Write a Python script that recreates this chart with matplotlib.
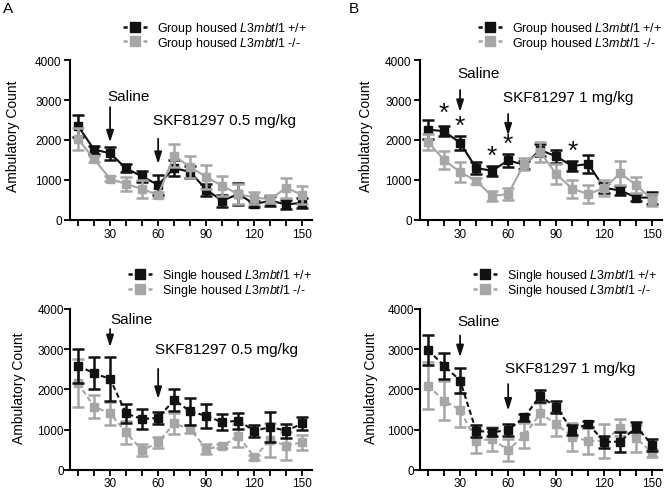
import matplotlib
matplotlib.use('Agg')
import matplotlib.pyplot as plt
from matplotlib.lines import Line2D

plt.rcParams['font.family'] = ['Liberation Sans', 'DejaVu Sans']
plt.rcParams['mathtext.fontset'] = 'custom'
plt.rcParams['mathtext.rm'] = 'Liberation Sans'
plt.rcParams['mathtext.it'] = 'Liberation Sans:italic'

# time bins (min)
minutes = [10, 20, 30, 40, 50, 60, 70, 80, 90, 100, 110, 120, 130, 140, 150]
xticks = [10, 20, 30, 40, 50, 60, 70, 80, 90, 100, 110, 120, 130, 140, 150]
xticklabels = ['', '', '30', '', '', '60', '', '', '90', '', '', '120', '', '', '150']
yticks = [0, 1000, 2000, 3000, 4000]

# A: group housed, SKF81297 0.5 mg/kg
a_wt = [2350, 1760, 1670, 1290, 1090, 875, 1300, 1200, 760, 480, 650, 400, 480, 390, 430]
a_wt_err = [270, 100, 160, 100, 140, 250, 190, 150, 150, 150, 270, 80, 120, 120, 130]
a_ko = [2030, 1520, 1030, 900, 775, 625, 1610, 1320, 1080, 850, 650, 560, 520, 810, 620]
a_ko_err = [270, 80, 60, 180, 230, 80, 290, 280, 300, 240, 250, 150, 100, 250, 230]

# B: group housed, SKF81297 1 mg/kg
b_wt = [2260, 2220, 1930, 1300, 1230, 1490, 1380, 1750, 1590, 1350, 1400, 800, 740, 560, 560]
b_wt_err = [230, 130, 170, 150, 130, 170, 100, 150, 170, 120, 220, 120, 120, 80, 150]
b_ko = [1950, 1500, 1200, 980, 600, 650, 1400, 1700, 1150, 780, 650, 800, 1170, 870, 500]
b_ko_err = [200, 230, 250, 80, 120, 150, 150, 250, 250, 230, 230, 200, 300, 200, 150]
b_star_x = [20, 30, 50, 60, 100]
b_star_y = [2690, 2360, 1610, 1900, 1730]

# C: single housed, SKF81297 0.5 mg/kg
c_wt = [2590, 2400, 2260, 1400, 1260, 1290, 1740, 1450, 1340, 1180, 1220, 970, 1060, 970, 1150]
c_wt_err = [420, 400, 550, 230, 250, 150, 270, 330, 300, 200, 200, 150, 380, 170, 170]
c_ko = [2150, 1570, 1400, 930, 480, 680, 1150, 1010, 520, 580, 850, 310, 740, 600, 680]
c_ko_err = [600, 280, 280, 290, 150, 130, 250, 100, 120, 50, 280, 60, 420, 350, 180]

# D: single housed, SKF81297 1 mg/kg
d_wt = [2980, 2590, 2220, 970, 930, 990, 1300, 1840, 1550, 990, 1140, 690, 700, 1060, 620]
d_wt_err = [380, 320, 300, 150, 100, 150, 80, 150, 150, 120, 80, 150, 250, 120, 150]
d_ko = [2090, 1720, 1490, 720, 760, 490, 850, 1400, 1140, 820, 720, 720, 1050, 780, 420]
d_ko_err = [580, 480, 430, 300, 300, 280, 300, 270, 300, 350, 320, 420, 200, 330, 100]

BLACK = '#111111'
GRAY = '#a6a6a6'
W, H = 666, 489

fig = plt.figure(figsize=(W / 100, H / 100), dpi=100)


def make_axes(left, top, bottom, width=242):
    return fig.add_axes([left / W, 1 - bottom / H, width / W, (bottom - top) / H])


def draw_series(ax, y, err, color, ls, z):
    ax.errorbar(minutes, y, yerr=err, color=color, ls=ls, lw=1.5, marker='s', ms=6,
                mec=color, mfc=color, elinewidth=1.8, capsize=4.5, capthick=1.8,
                zorder=z, clip_on=False)


def style_axes(ax, labx, laby, tickpad):
    ax.set_xlim(5, 156)
    ax.set_ylim(0, 4000)
    for s in ['top', 'right']:
        ax.spines[s].set_visible(False)
    for s in ['left', 'bottom']:
        ax.spines[s].set_linewidth(1.5)
    ax.set_xticks(xticks)
    ax.set_xticklabels(xticklabels)
    ax.set_yticks(yticks)
    ax.tick_params(axis='x', length=4.5, width=1.3, labelsize=8.5, pad=1)
    ax.tick_params(axis='y', length=4, width=1.3, labelsize=8.5, pad=tickpad)
    ax.set_ylabel('Ambulatory Count', fontsize=10)
    ax.yaxis.set_label_coords(labx, laby)


def annotate(ax, label, tx, ty, ax_x, y0, y1):
    ax.text(tx, ty, label, fontsize=11, va='center', ha='left')
    ax.annotate('', xy=(ax_x, y1), xytext=(ax_x, y0),
                arrowprops=dict(arrowstyle='-|>,head_length=0.7,head_width=0.22',
                                lw=1.3, color=BLACK, shrinkA=0, shrinkB=0))


def add_legend(ax, housing, x_px, top_px):
    dash = (0, (1.7, 1.4, 3.5, 1.4, 1.7, 10))
    handles = [Line2D([], [], color=BLACK, ls=dash, lw=1.8, marker='s', ms=7),
               Line2D([], [], color=GRAY, ls=dash, lw=1.8, marker='s', ms=7)]
    labels = [housing + ' housed $\\mathit{L3mbtl1}$ +/+',
              housing + ' housed $\\mathit{L3mbtl1}$ -/-']
    ax.legend(handles, labels, loc='upper left', bbox_to_anchor=(x_px / W, 1 - top_px / H),
              bbox_transform=fig.transFigure, frameon=False, fontsize=9, borderpad=0,
              borderaxespad=0, handlelength=1.9, handletextpad=0.8, labelspacing=-0.12,
              numpoints=1)


# panel A
axA = make_axes(70, 61, 221)
draw_series(axA, a_wt, a_wt_err, BLACK, '-', 3)
draw_series(axA, a_ko, a_ko_err, GRAY, '-', 4)
style_axes(axA, -0.207, 0.53, 2)
annotate(axA, 'Saline', 28, 3100, 30, 2820, 1940)
annotate(axA, 'SKF81297 0.5 mg/kg', 57, 2500, 60, 2030, 1400)
add_legend(axA, 'Group', 123, 21)

# panel B
axB = make_axes(420, 61, 221)
draw_series(axB, b_wt, b_wt_err, BLACK, '-', 3)
draw_series(axB, b_ko, b_ko_err, GRAY, '-', 4)
style_axes(axB, -0.193, 0.53, 2)
annotate(axB, 'Saline', 28, 3680, 30, 3250, 2700)
annotate(axB, 'SKF81297 1 mg/kg', 57, 3070, 60, 2650, 2110)
for sx, sy in zip(b_star_x, b_star_y):
    axB.text(sx, sy, '*', fontsize=19, ha='center', va='center', color=BLACK)
add_legend(axB, 'Group', 478, 21)

# panel C
axC = make_axes(70, 310, 470.7)
draw_series(axC, c_ko, c_ko_err, GRAY, (0, (2.5, 1.5)), 3)
draw_series(axC, c_wt, c_wt_err, BLACK, (0, (2.5, 1.5)), 4)
style_axes(axC, -0.183, 0.513, 0.5)
annotate(axC, 'Saline', 30, 3750, 30, 3500, 3050)
annotate(axC, 'SKF81297 0.5 mg/kg', 58, 3000, 60, 2510, 1760)
add_legend(axC, 'Single', 128, 268.5)

# panel D
axD = make_axes(420, 310, 470.7)
draw_series(axD, d_ko, d_ko_err, GRAY, (0, (2.5, 1.5)), 3)
draw_series(axD, d_wt, d_wt_err, BLACK, (0, (2.5, 1.5)), 4)
style_axes(axD, -0.175, 0.513, 0.5)
annotate(axD, 'Saline', 28, 3710, 30, 3340, 2800)
annotate(axD, 'SKF81297 1 mg/kg', 58, 2530, 60, 2130, 1470)
add_legend(axD, 'Single', 473, 268.5)

fig.text(3 / W, 1 - 9 / H, 'A', fontsize=11, va='center', ha='left')
fig.text(349 / W, 1 - 9 / H, 'B', fontsize=11, va='center', ha='left')

fig.savefig('out.png', dpi=100)
